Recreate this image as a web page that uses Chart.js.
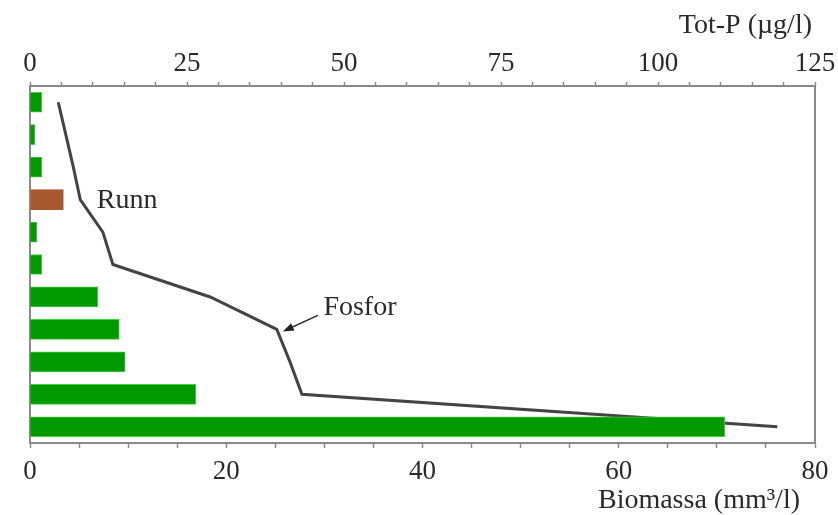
<!DOCTYPE html>
<html lang="sv">
<head>
  <meta charset="UTF-8">
  <title>Biomassa och Tot-P</title>
  <script src="https://cdn.jsdelivr.net/npm/chart.js"></script>
  <style>
    html, body { margin: 0; padding: 0; background: #fff; }
    #wrap { width: 838px; height: 515px; position: relative; }
  </style>
</head>
<body>
  <div id="wrap"><canvas id="profileChart"></canvas></div>

  <script>
    // Depth levels, top to bottom (no labels shown in the original)
    const levels = ['1', '2', '3', '4', '5', '6', '7', '8', '9', '10', '11'];

    // Biomassa (mm3/l), bottom axis
    const biomass = [1.2, 0.5, 1.2, 3.4, 0.7, 1.2, 6.9, 9.1, 9.7, 16.9, 70.8];
    // Runn (index 3) is brown, the rest green
    const barColors = ['#009a00', '#009a00', '#009a00', '#a8592f', '#009a00', '#009a00',
                       '#009a00', '#009a00', '#009a00', '#009a00', '#009a00'];
    const barEdges = ['#3fcf3f', '#3fcf3f', '#3fcf3f', '#a8592f', '#3fcf3f', '#3fcf3f',
                      '#3fcf3f', '#3fcf3f', '#3fcf3f', '#3fcf3f', '#3fcf3f'];

    // Tot-P (ug/l), top axis
    const totP = [4.5, 5.7, 6.9, 8.0, 11.6, 13.2, 28.7, 39.3, 41.4, 43.3, 119];

    const serif = '"Liberation Serif", "Times New Roman", serif';
    const textColor = '#2a2a2a';
    const axisColor = '#8a8a8a';

    // frame, axis titles, labels and arrow
    const extras = {
      id: 'extras',
      beforeDatasetsDraw(chart) {
        const { ctx, chartArea: a } = chart;
        ctx.save();
        ctx.strokeStyle = axisColor;
        ctx.lineWidth = 2;
        ctx.beginPath();
        ctx.moveTo(a.left, a.top); ctx.lineTo(a.left, a.bottom);
        ctx.moveTo(a.right, a.top); ctx.lineTo(a.right, a.bottom);
        ctx.stroke();
        ctx.restore();
      },
      afterDraw(chart) {
        const { ctx, chartArea: a } = chart;
        const xb = chart.scales.x;
        const xt = chart.scales.xTop;
        const y = chart.scales.y;
        ctx.save();
        ctx.fillStyle = textColor;
        ctx.font = '28px ' + serif;
        ctx.textBaseline = 'alphabetic';

        ctx.textAlign = 'right';
        ctx.fillText('Tot-P (µg/l)', a.right - 3, 33);
        ctx.fillText('Biomassa (mm³/l)', a.right - 15, 508);

        ctx.textAlign = 'left';
        ctx.textBaseline = 'middle';
        ctx.fillText('Runn', xb.getPixelForValue(6.8), y.getPixelForValue(3) + 1);
        ctx.fillText('Fosfor', xb.getPixelForValue(29.9), y.getPixelForValue(6.34));

        // arrow pointing at the Fosfor line
        const hx = xt.getPixelForValue(totP[7]) + 6;
        const hy = y.getPixelForValue(7) + 2;
        const tx = hx + 35, ty = hy - 16;
        const ang = Math.atan2(hy - ty, hx - tx);
        ctx.strokeStyle = '#222';
        ctx.fillStyle = '#222';
        ctx.lineWidth = 1.5;
        ctx.beginPath();
        ctx.moveTo(tx, ty);
        ctx.lineTo(hx - 8 * Math.cos(ang), hy - 8 * Math.sin(ang));
        ctx.stroke();
        ctx.beginPath();
        ctx.moveTo(hx, hy);
        ctx.lineTo(hx - 11 * Math.cos(ang) + 4 * Math.sin(ang), hy - 11 * Math.sin(ang) - 4 * Math.cos(ang));
        ctx.lineTo(hx - 11 * Math.cos(ang) - 4 * Math.sin(ang), hy - 11 * Math.sin(ang) + 4 * Math.cos(ang));
        ctx.closePath();
        ctx.fill();
        ctx.restore();
      }
    };

    const ctx = document.getElementById('profileChart').getContext('2d');
    new Chart(ctx, {
      type: 'bar',
      data: {
        labels: levels,
        datasets: [
          {
            label: 'Biomassa',
            data: biomass,
            backgroundColor: barColors,
            borderColor: barEdges,
            borderWidth: 1,
            borderSkipped: 'left',
            barThickness: 20,
            xAxisID: 'x',
            yAxisID: 'y'
          },
          {
            type: 'line',
            label: 'Fosfor',
            data: totP,
            indexAxis: 'y',
            borderColor: '#444',
            borderWidth: 3,
            pointRadius: 0,
            tension: 0,
            fill: false,
            xAxisID: 'xTop',
            yAxisID: 'y'
          }
        ]
      },
      options: {
        indexAxis: 'y',
        responsive: true,
        maintainAspectRatio: false,
        animation: false,
        layout: { padding: { left: 30, right: 23, top: 0, bottom: 0 } },
        plugins: {
          legend: { display: false },
          tooltip: { enabled: false }
        },
        scales: {
          x: {
            position: 'bottom',
            min: 0, max: 80,
            afterFit: s => { s.height = 72; },
            border: { display: true, color: axisColor, width: 2 },
            grid: { drawOnChartArea: false, color: axisColor, tickLength: 5, tickWidth: 1.5 },
            ticks: {
              stepSize: 5, autoSkip: false, maxRotation: 0, padding: 8,
              color: textColor, font: { family: serif, size: 27 },
              callback: v => (v % 20 === 0 ? v : '')
            }
          },
          xTop: {
            position: 'top',
            min: 0, max: 125,
            afterFit: s => { s.height = 86; },
            border: { display: true, color: axisColor, width: 2 },
            grid: { drawOnChartArea: false, color: axisColor, tickLength: 4, tickWidth: 1.5 },
            ticks: {
              stepSize: 5, autoSkip: false, maxRotation: 0, padding: 2,
              color: textColor, font: { family: serif, size: 27 },
              callback: v => (v % 25 === 0 ? v : '')
            }
          },
          y: {
            display: false,
            offset: true
          }
        }
      },
      plugins: [extras]
    });
  </script>
</body>
</html>
